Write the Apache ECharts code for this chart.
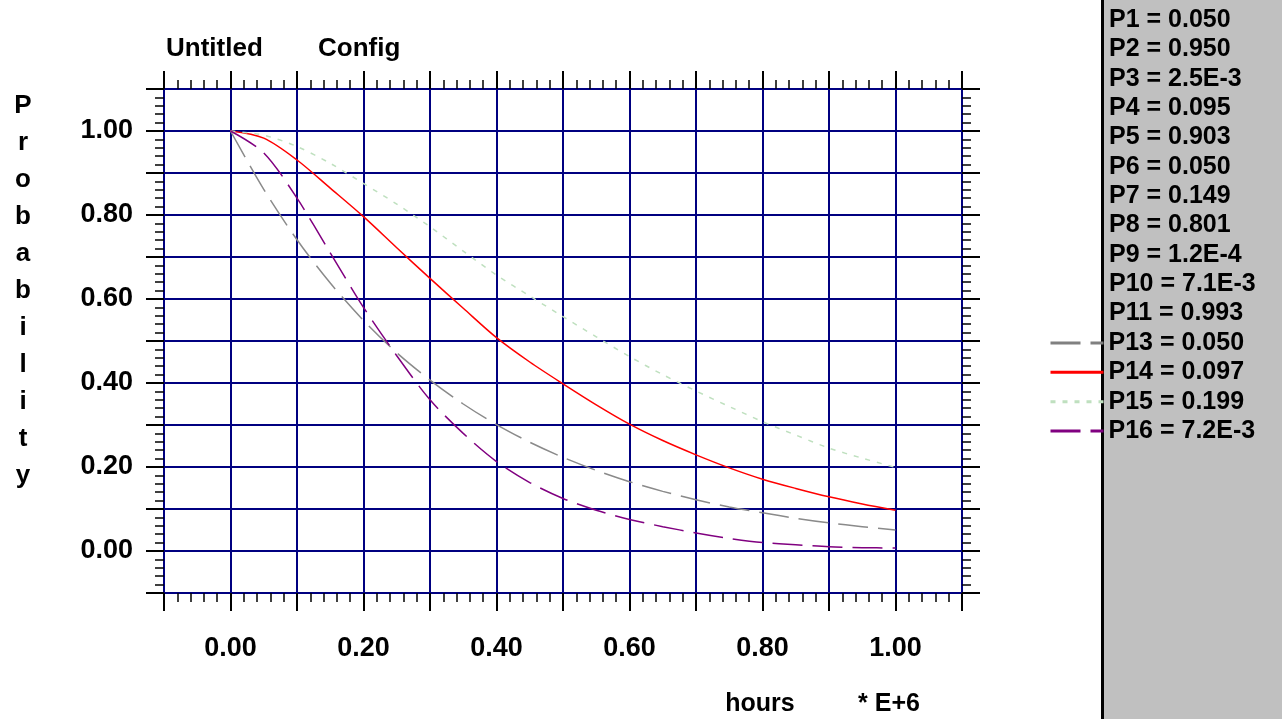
<!DOCTYPE html>
<html>
<head>
<meta charset="utf-8">
<script src="https://cdn.jsdelivr.net/npm/echarts@6/dist/echarts.min.js"></script>
<style>
html,body{margin:0;padding:0;background:#fff;}
#chart{width:1282px;height:719px;}
</style>
</head>
<body>
<div id="chart"></div>
<script>
// ---- data ----
const xHours = [0, 0.05, 0.10, 0.15, 0.20, 0.25, 0.30, 0.35, 0.40, 0.45, 0.50, 0.55, 0.60, 0.65, 0.70, 0.75, 0.80, 0.85, 0.90, 0.95, 1.00];
const p13Gray   = [1.000, 0.861, 0.741, 0.638, 0.549, 0.472, 0.407, 0.350, 0.301, 0.259, 0.223, 0.192, 0.165, 0.142, 0.122, 0.105, 0.091, 0.078, 0.067, 0.058, 0.050];
const p14Red    = [1.000, 0.983, 0.931, 0.864, 0.796, 0.722, 0.649, 0.578, 0.508, 0.450, 0.398, 0.348, 0.302, 0.263, 0.229, 0.198, 0.171, 0.149, 0.129, 0.112, 0.097];
const p15Green  = [1.000, 0.990, 0.963, 0.923, 0.875, 0.826, 0.772, 0.714, 0.657, 0.607, 0.558, 0.510, 0.463, 0.420, 0.381, 0.344, 0.308, 0.276, 0.245, 0.221, 0.199];
const p16Purple = [1.000, 0.948, 0.840, 0.710, 0.580, 0.465, 0.360, 0.280, 0.213, 0.163, 0.125, 0.097, 0.075, 0.058, 0.043, 0.030, 0.020, 0.015, 0.010, 0.008, 0.007];

const xTickLabels = ['0.00', '0.20', '0.40', '0.60', '0.80', '1.00'];
const yTickLabels = ['0.00', '0.20', '0.40', '0.60', '0.80', '1.00'];
const panelLabels = ['P1 = 0.050', 'P2 = 0.950', 'P3 = 2.5E-3', 'P4 = 0.095', 'P5 = 0.903', 'P6 = 0.050',
                     'P7 = 0.149', 'P8 = 0.801', 'P9 = 1.2E-4', 'P10 = 7.1E-3', 'P11 = 0.993'];
const legendLabels = ['P13 = 0.050', 'P14 = 0.097', 'P15 = 0.199', 'P16 = 7.2E-3'];
const titleWords = ['Untitled', 'Config'];
const yTitle = 'Probability';
const xTitle = 'hours';
const xScale = '* E+6';

// ---- styling ----
const FONT = '"Liberation Sans", Arial, sans-serif';
const NAVY = '#000080';
const rowY = i => 20 + 29.36 * i;

function tickLabel(labels) {
  return function (v) {
    const i = Math.round(v * 10);
    if (i >= 0 && i <= 10 && i % 2 === 0) return labels[i / 2];
    return '';
  };
}

const seriesDefs = [
  { name: legendLabels[0], data: p13Gray,   color: '#8a8a8a', legendColor: '#808080', type: [30, 10], width: 1.5 },
  { name: legendLabels[1], data: p14Red,    color: '#ff0000', legendColor: '#ff0000', type: 'solid',  width: 1.5 },
  { name: legendLabels[2], data: p15Green,  color: '#bfe0bf', legendColor: '#bfe0bf', type: [5, 7],   width: 1.5 },
  { name: legendLabels[3], data: p16Purple, color: '#800080', legendColor: '#800080', type: [30, 10], width: 1.5 }
];

const axisCommon = {
  type: 'value', min: -0.1, max: 1.1, interval: 0.1,
  axisLine: { show: true, onZero: false, lineStyle: { color: NAVY, width: 2 } },
  axisTick: { show: true, inside: false, length: 18, lineStyle: { color: '#000', width: 2 } },
  minorTick: { show: true, splitNumber: 5, length: 9, lineStyle: { color: '#000', width: 1.5 } },
  splitLine: { show: false }
};

const chart = echarts.init(document.getElementById('chart'), null, { renderer: 'canvas' });

const graphics = [
  { type: 'rect', z: 1, shape: { x: 1104, y: 0, width: 178, height: 719 }, style: { fill: '#c0c0c0' } },
  { type: 'rect', z: 2, shape: { x: 1101, y: 0, width: 3, height: 719 }, style: { fill: '#000' } },
  { type: 'text', z: 10, left: 166, top: 36, style: { text: titleWords[0], font: 'bold 26px ' + FONT, fill: '#000' } },
  { type: 'text', z: 10, left: 318, top: 36, style: { text: titleWords[1], font: 'bold 26px ' + FONT, fill: '#000' } },
  { type: 'text', z: 10, x: 23, y: 87, style: { text: yTitle.split('').join('\n'), font: 'bold 26px ' + FONT, lineHeight: 37, align: 'center', verticalAlign: 'top', fill: '#000' } },
  { type: 'text', z: 10, x: 760, y: 704, style: { text: xTitle, font: 'bold 25px ' + FONT, align: 'center', verticalAlign: 'middle', fill: '#000' } },
  { type: 'text', z: 10, x: 889, y: 704, style: { text: xScale, font: 'bold 25px ' + FONT, align: 'center', verticalAlign: 'middle', fill: '#000' } }
];
panelLabels.forEach((t, i) => {
  graphics.push({ type: 'text', z: 10, x: 1109, y: rowY(i), style: { text: t, font: 'bold 25px ' + FONT, align: 'left', verticalAlign: 'middle', fill: '#000' } });
});

const option = {
  backgroundColor: '#ffffff',
  animation: false,
  grid: { left: 164, right: 320, top: 89, bottom: 126, containLabel: false },
  xAxis: [
    Object.assign({}, axisCommon, {
      position: 'bottom',
      axisLabel: { show: true, margin: 42, formatter: tickLabel(xTickLabels), fontFamily: FONT, fontSize: 27, fontWeight: 'bold', color: '#000', showMinLabel: true, showMaxLabel: true },
      splitLine: { show: true, lineStyle: { color: NAVY, width: 2 } }
    }),
    Object.assign({}, axisCommon, { position: 'top', axisLabel: { show: false } })
  ],
  yAxis: [
    Object.assign({}, axisCommon, {
      position: 'left',
      axisLabel: { show: true, margin: 31, formatter: tickLabel(yTickLabels), fontFamily: FONT, fontSize: 27, fontWeight: 'bold', color: '#000', showMinLabel: true, showMaxLabel: true },
      splitLine: { show: true, lineStyle: { color: NAVY, width: 2 } }
    }),
    Object.assign({}, axisCommon, { position: 'right', axisLabel: { show: false } })
  ],
  legend: seriesDefs.map((s, i) => ({
    data: [s.name],
    orient: 'vertical',
    left: 1049,
    top: rowY(11 + i) - 13,
    itemWidth: 53,
    itemHeight: 26,
    itemGap: 0,
    padding: 0,
    selectedMode: false,
    lineStyle: { width: 3, color: s.legendColor, type: s.type },
    itemStyle: { opacity: 0 },
    textStyle: { fontFamily: FONT, fontSize: 25, fontWeight: 'bold', color: '#000', lineHeight: 26 }
  })),
  series: seriesDefs.map(s => ({
    name: s.name,
    type: 'line',
    xAxisIndex: 0,
    yAxisIndex: 0,
    smooth: 0.3,
    symbol: 'none',
    showSymbol: false,
    data: xHours.map((x, i) => [x, s.data[i]]),
    lineStyle: { color: s.color, width: s.width, type: s.type },
    itemStyle: { color: s.legendColor },
    z: 5
  })),
  graphic: graphics
};

chart.setOption(option);
</script>
</body>
</html>
